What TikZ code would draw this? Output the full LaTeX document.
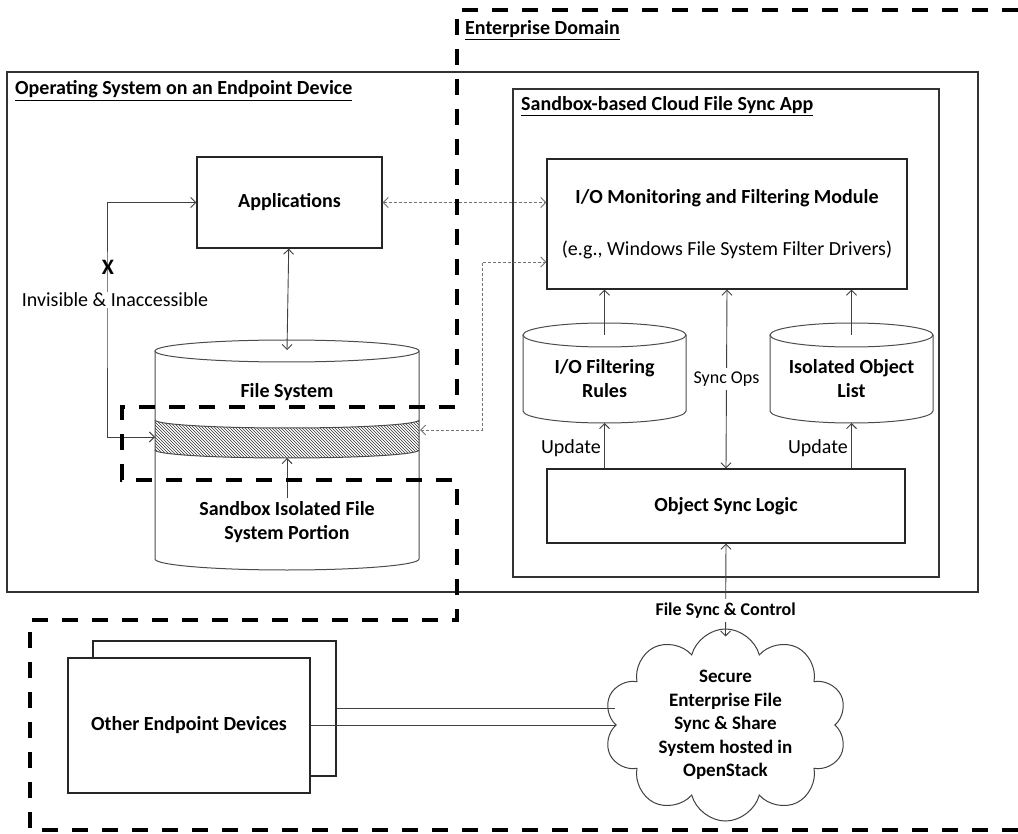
\documentclass[tikz,border=0pt]{standalone}
\usepackage{fontspec}
\setmainfont{Carlito}
\usetikzlibrary{shapes.geometric, shapes.symbols, arrows.meta, positioning, patterns}
\tikzstyle{frame}    = [rectangle, draw=black!80, line width=1.3pt]
\tikzstyle{box}      = [rectangle, draw=black!85, line width=1.3pt, align=center,
                        font=\fontsize{20}{24}\selectfont\bfseries]
\tikzstyle{drum}     = [rectangle, outer sep=0pt, align=center,
                        font=\fontsize{20}{24}\selectfont\bfseries]
\tikzstyle{heading}  = [anchor=base west, inner sep=0pt, font=\fontsize{20}{24}\selectfont\bfseries]
\tikzstyle{tag}      = [font=\fontsize{20}{24}\selectfont]
\tikzstyle{arrow}    = [-{Straight Barb[length=5pt, width=10pt]}, line width=0.9pt, draw=black!75]
\tikzstyle{biarrow}  = [{Straight Barb[length=5pt, width=10pt]}-{Straight Barb[length=5pt, width=10pt]},
                        line width=0.9pt, draw=black!75]
\tikzstyle{dotarrow} = [biarrow, dash pattern=on 3pt off 2pt, draw=black!55]
\tikzstyle{fence}    = [line width=4pt, dash pattern=on 16pt off 14pt]
\newcommand{\drumline}[3]{%
  \draw [black!70, line width=1pt] ([yshift=-#3pt]#1.north) ellipse [x radius=#2, y radius=#3];
  \draw [black!70, line width=1pt] ([yshift=-#3pt]#1.north west) -- ([yshift=#3pt]#1.south west)
        arc [start angle=180, end angle=0, x radius=#2, y radius=#3] -- ([yshift=-#3pt]#1.north east);
}

\begin{document}
\begin{tikzpicture}[x=1pt, y=-1pt]
  \useasboundingbox (0,0) rectangle (1018,834);

  \node (os)      [frame, minimum width=971pt, minimum height=520pt] at (492.5,332) {};
  \node (osname)  [heading] at (15,95) {\underline{Operating System on an Endpoint Device}};
  \node (app)     [box, minimum width=185pt, minimum height=91pt] at (289.5,202.5) {Applications};
  \node (fs)      [drum, minimum width=264pt, minimum height=230pt] at (287,455) {};
  \drumline{fs}{132}{11}
  \fill [pattern=north west lines, pattern color=black!80] (155,420) arc[start angle=180, end angle=0, x radius=132, y radius=8]
        -- (419,450) arc[start angle=0, end angle=180, x radius=132, y radius=8] -- cycle;
  \draw [black!70, line width=1pt] (155,420) arc[start angle=180, end angle=0, x radius=132, y radius=8];
  \draw [black!70, line width=1pt] (155,450) arc[start angle=180, end angle=0, x radius=132, y radius=8];
  \coordinate (bandW) at (155,437);
  \coordinate (bandE) at (420,430);
  \coordinate (bandS) at (287,458);
  \node (fsname)  [tag, font=\fontsize{20}{24}\selectfont\bfseries] at (287,392) {File System};
  \node (portion) [tag, align=center, font=\fontsize{20}{24}\selectfont\bfseries] at (287,522)
                  {Sandbox Isolated File\\System Portion};
  \coordinate (hide) at (107,300);

  \node (sbox)    [frame, minimum width=426pt, minimum height=488pt] at (726,333) {};
  \node (sbname)  [heading] at (521,111) {\underline{Sandbox-based Cloud File Sync App}};
  \node (io)      [box, minimum width=360pt, minimum height=130pt] at (727,224)
                  {I/O Monitoring and Filtering Module\\[28pt]{\mdseries (e.g., Windows File System Filter Drivers)}};
  \node (rules)   [drum, text height=50pt, minimum width=163pt, minimum height=100pt] at (604.5,373) {I/O Filtering\\Rules};
  \drumline{rules}{81.5}{12}
  \node (objlist) [drum, text height=50pt, minimum width=163pt, minimum height=100pt] at (851.5,373) {Isolated Object\\List};
  \drumline{objlist}{81.5}{12}
  \node (sync)    [box, minimum width=358pt, minimum height=74pt] at (726,506) {Object Sync Logic};

  \node (peer2)   [box, minimum width=243pt, minimum height=135pt] at (214.5,708.5) {};
  \node (peer)    [box, fill=white, minimum width=242pt, minimum height=135pt] at (189,725.5) {Other Endpoint Devices};
  \node (cloud)   [cloud, cloud puffs=10, cloud ignores aspect, draw=black!75, line width=1pt, align=center,
                   inner sep=0pt, minimum width=243pt, minimum height=170pt,
                   font=\fontsize{19}{23.5}\selectfont\bfseries] at (725.5,725)
                  {Secure\\Enterprise File\\Sync \& Share\\System hosted in\\OpenStack};
  \node (domname) [heading] at (465,35) {\underline{Enterprise Domain}};

  \draw [biarrow] (app) -- ([yshift=-10pt]fs.north);
  \draw [biarrow] (app.west) -| (hide) |- (bandW);
  \node (hidetag) [tag, fill=white, inner sep=1pt, xshift=8pt] at (hide) {Invisible \& Inaccessible};
  \node (cross)   [font=\fontsize{22}{24}\selectfont\bfseries, inner sep=0pt] at (108,267) {X};
  \draw [arrow] (portion) -- (bandS);
  \draw [dotarrow] (app.east) -- (app.east -| io.west);
  \draw [dotarrow] (bandE) -| ([xshift=-64pt, yshift=-38pt]io.west) -- ([yshift=-38pt]io.west);
  \draw [arrow] ([yshift=-12pt]rules.north) -- (rules.north |- io.south);
  \draw [arrow] ([yshift=-12pt]objlist.north) -- (objlist.north |- io.south);
  \draw [arrow] (sync.north -| rules) -- (rules.south) node[tag, midway, left, yshift=-2pt] {Update};
  \draw [arrow] (sync.north -| objlist) -- (objlist.south) node[tag, midway, left, yshift=-2pt] {Update};
  \draw [biarrow] (io.south) -- (sync.north) node[midway, fill=white, font=\fontsize{18}{20}\selectfont] {Sync Ops};
  \draw [biarrow] (sync.south) -- ([yshift=-8pt]cloud.north)
        node[pos=0.72, fill=white, font=\fontsize{18}{20}\selectfont\bfseries] {File Sync \& Control};
  \draw [black!75, line width=1pt] (peer2.east) -- (peer2.east -| cloud.west);
  \draw [black!75, line width=1pt] (peer.east) -- (peer.east -| cloud.west);

  \draw [fence] (1018,10) -- (457,10) -- (457,407) -- (122,407) -- (122,480) -- (457,480)
        -- (457,620) -- (30,620) -- (30,830) -- (1018,830);
\end{tikzpicture}
\end{document}
